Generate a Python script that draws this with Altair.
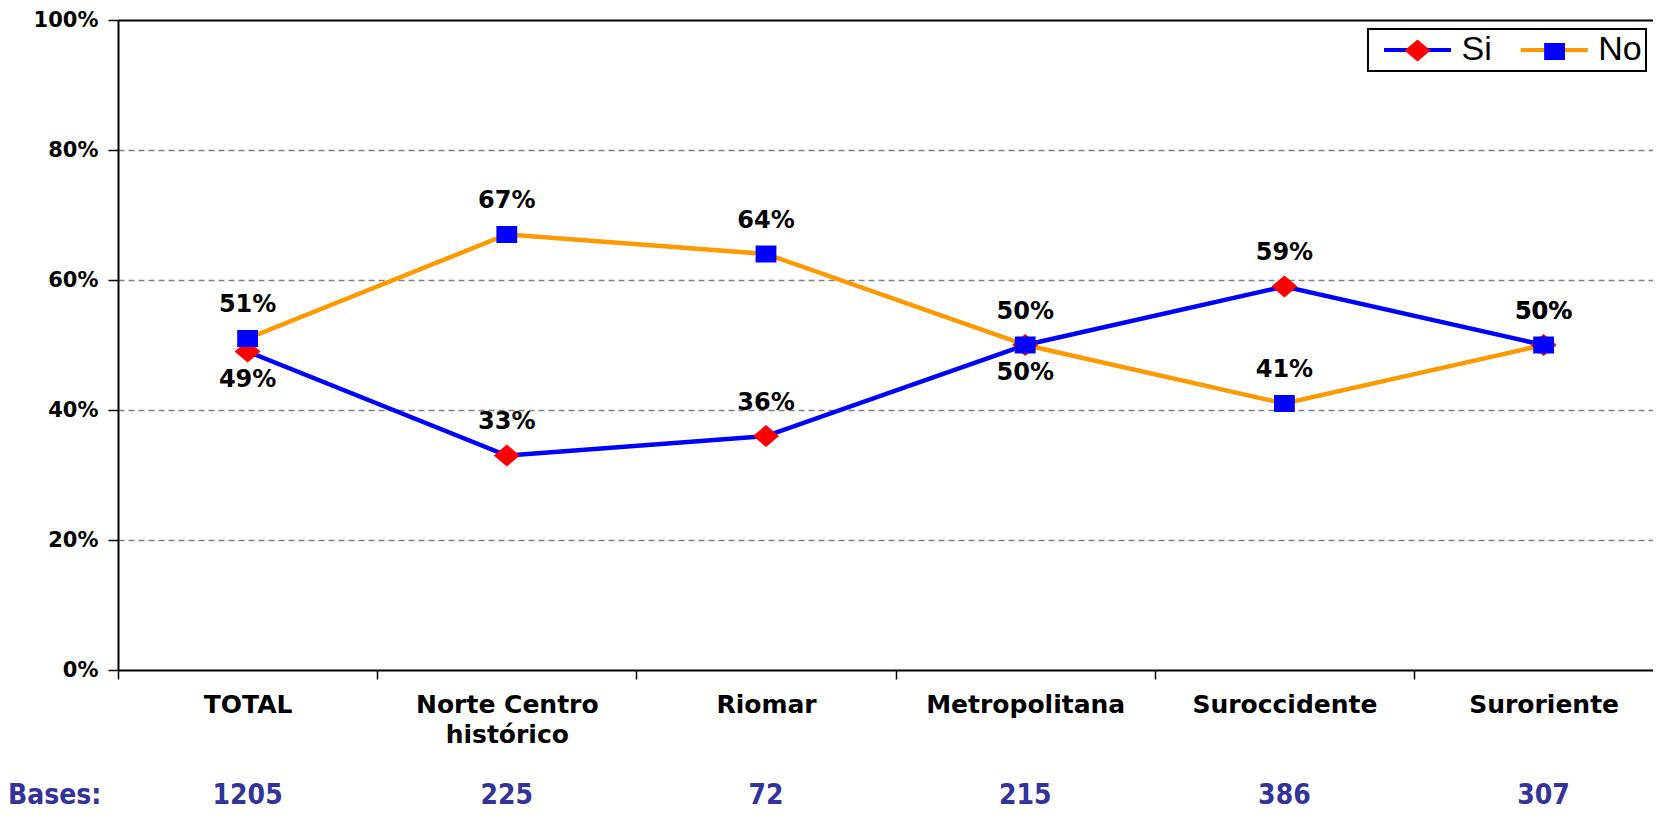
import json
import altair as alt
import pandas as pd

# ---------------- data ----------------
categories = ["TOTAL", "Norte Centro histórico", "Riomar", "Metropolitana", "Suroccidente", "Suroriente"]
category_lines = [["TOTAL"], ["Norte Centro", "histórico"], ["Riomar"], ["Metropolitana"], ["Suroccidente"], ["Suroriente"]]
series_names = ["Si", "No"]
si_values = [0.49, 0.33, 0.36, 0.50, 0.59, 0.50]
no_values = [0.51, 0.67, 0.64, 0.50, 0.41, 0.50]
si_label_side = ["below", "above", "above", "above", "above", "above"]
no_label_side = ["above", "above", "above", "below", "above", "above"]
bases = [1205, 225, 72, 215, 386, 307]
bases_title = "Bases:"
y_ticks = [0, 0.2, 0.4, 0.6, 0.8, 1.0]

# ---------------- styling ----------------
line_colors = ["#0000FF", "#FF9900"]
marker_colors = ["#FF0000", "#0000FF"]
SIZE = 676  # symbol scale: sqrt(676)/2 = 13 px per unit
EXT = "M-3.3,0Z M-2.577,0L2.577,0 "
diamond_path = EXT + "M-1,0L0,-0.85L1,0L0,0.85Z"
square_path = EXT + "M-0.8,-0.65L0.8,-0.65L0.8,0.65L-0.8,0.65Z"
line_sym = EXT

BOLD = "DejaVu Sans"
NARROW = "Liberation Sans Narrow, Arial Narrow, DejaVu Sans Condensed, sans-serif"
n = len(categories)

rows = []
for name, vals, sides in [("Si", si_values, si_label_side), ("No", no_values, no_label_side)]:
    for i in range(n):
        rows.append({"idx": i, "cat": categories[i], "serie": name, "serie_p": name,
                     "value": vals[i], "side": sides[i]})
df = pd.DataFrame(rows)
bases_df = pd.DataFrame({"idx": list(range(n)), "base": [str(b) for b in bases]})
title_df = pd.DataFrame({"t": [bases_title]})

label_expr = json.dumps(category_lines, ensure_ascii=False) + "[round(datum.value + 0.5)]"

x_enc = alt.X(
    "idx:Q",
    scale=alt.Scale(domain=[-0.5, 5.422], nice=False, zero=False),
    axis=alt.Axis(
        values=[-0.5, 0.5, 1.5, 2.5, 3.5, 4.5],
        labelExpr=label_expr,
        labelOffset=129.6,
        labelFlush=False,
        labelOverlap=False,
        labelLimit=500,
        grid=False,
        title=None,
        domainColor="black",
        domainWidth=2,
        tickColor="black",
        tickWidth=1.5,
        tickSize=9,
        labelFont=BOLD,
        labelFontWeight="bold",
        labelFontSize=25,
        labelColor="black",
        labelPadding=13.75,
        labelLineHeight=30,
    ),
)

y_enc = alt.Y(
    "value:Q",
    scale=alt.Scale(domain=[0, 1], nice=False),
    axis=alt.Axis(
        values=y_ticks,
        format=".0%",
        title=None,
        grid=True,
        gridColor={"condition": {"test": "datum.value === 1", "value": "#000000"}, "value": "#808080"},
        gridDash={"condition": {"test": "datum.value === 1", "value": []}, "value": [6, 4]},
        gridWidth={"condition": {"test": "datum.value === 1", "value": 2}, "value": 1.5},
        gridOpacity={"condition": {"test": "datum.value === 0", "value": 0}, "value": 1},
        domainColor="black",
        domainWidth=2,
        tickColor="black",
        tickWidth=1.5,
        tickSize=10,
        labelFont=BOLD,
        labelFontWeight="bold",
        labelFontSize=21,
        labelColor="black",
        labelPadding=10,
        labelFlush=False,
    ),
)

common_legend = dict(
    orient="none", legendX=1250, legendY=9, direction="horizontal", title=None,
    symbolSize=SIZE, symbolStrokeWidth=4, labelFont="Liberation Sans", labelFontSize=34,
    labelColor="black", labelOffset=27, symbolOffset=28.5, padding=4, labelLimit=300,
)

line_legend = alt.Legend(symbolType=line_sym, strokeColor="black", fillColor="white",
                         columnPadding=10.8, **common_legend)
# marker legend drawn exactly over the line legend (labels carried by the line legend)
marker_legend = alt.Legend(labelExpr="''", symbolOpacity=1, symbolStrokeColor="transparent",
                           columnPadding=41.05, **common_legend)

lines = alt.Chart(df).mark_line(strokeWidth=4.5).encode(
    x=x_enc,
    y=y_enc,
    stroke=alt.Stroke("serie:N", sort=series_names,
                      scale=alt.Scale(range=line_colors), legend=line_legend),
)

points = alt.Chart(df).mark_point(filled=True, opacity=1, size=SIZE, strokeWidth=0).encode(
    x=x_enc,
    y=y_enc,
    fill=alt.Fill("serie_p:N", scale=alt.Scale(domain=series_names, range=marker_colors),
                  legend=marker_legend),
    shape=alt.Shape("serie_p:N", scale=alt.Scale(domain=series_names, range=[diamond_path, square_path]),
                    legend=marker_legend),
)

labels_above = alt.Chart(df).transform_filter(alt.datum.side == "above").mark_text(
    font=BOLD, fontWeight="bold", fontSize=24, color="black", dy=-33.5, baseline="middle"
).encode(x=x_enc, y=y_enc, text=alt.Text("value:Q", format=".0%"))

labels_below = alt.Chart(df).transform_filter(alt.datum.side == "below").mark_text(
    font=BOLD, fontWeight="bold", fontSize=24, color="black", dy=28, baseline="middle"
).encode(x=x_enc, y=y_enc, text=alt.Text("value:Q", format=".0%"))

bases_text = alt.Chart(bases_df).mark_text(
    font=NARROW, fontWeight="bold", fontSize=28, color="#333399", baseline="alphabetic"
).encode(x=x_enc, y=alt.value(784), text="base:N")

bases_label = alt.Chart(title_df).mark_text(
    font=NARROW, fontWeight="bold", fontSize=28, color="#333399", baseline="alphabetic", align="left"
).encode(x=alt.value(-110), y=alt.value(784), text="t:N")

chart = alt.layer(lines, points, labels_above, labels_below, bases_text, bases_label).properties(
    width=1535,
    height=650,
    padding={"left": 110, "top": 12, "right": 0, "bottom": 141},
    autosize=alt.AutoSizeParams(type="none"),
    background="white",
).configure_view(stroke=None).configure_legend(strokeWidth=2)

chart.save("out.html", embed_options={"renderer": "svg", "actions": False})
